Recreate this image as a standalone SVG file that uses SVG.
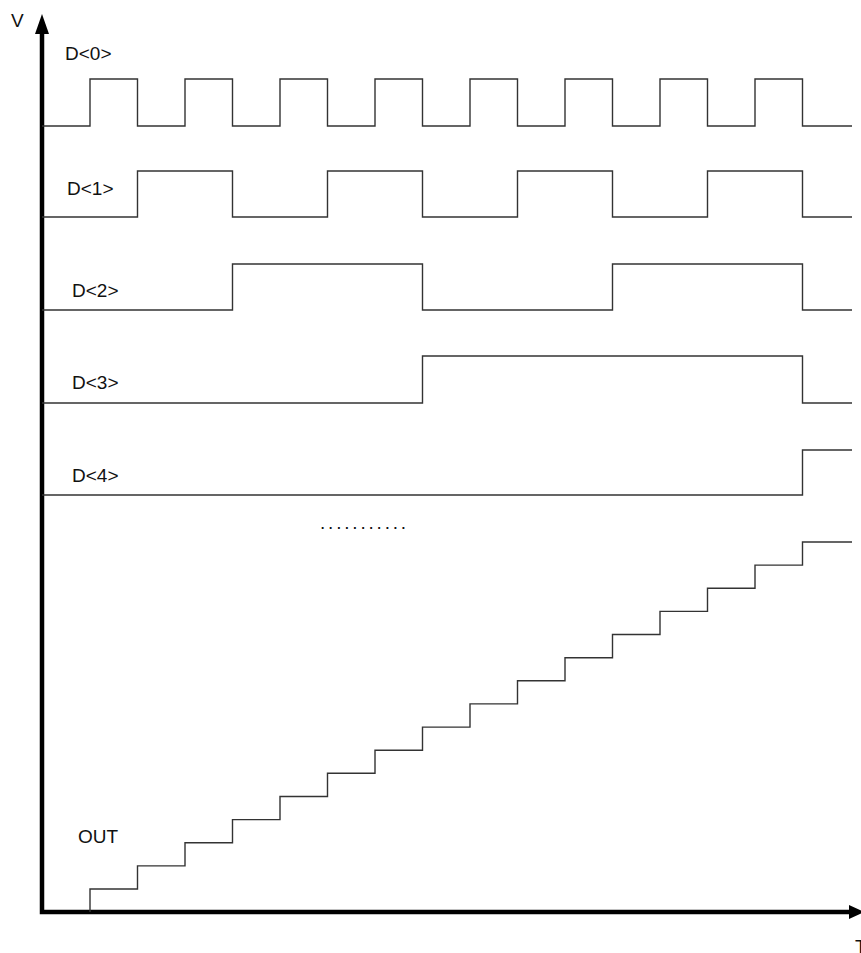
<svg xmlns="http://www.w3.org/2000/svg" width="861" height="953" viewBox="0 0 861 953">
<style>
.sig{fill:none;stroke:#333;stroke-width:1.4}
.axis{fill:none;stroke:#000;stroke-width:4.5}
.lbl{font-family:"Liberation Sans",Arial,sans-serif;font-size:19px;fill:#111}
</style>
<rect width="861" height="953" fill="#fff"/>
<g id="axes">
<path class="axis" d="M42,30 V912 H851"/>
<polygon points="42,14 35,34 49,34" fill="#000"/>
<polygon points="864,912 849,905 849,919" fill="#000"/>
<text class="lbl" x="11" y="27" font-size="17">V</text>
<text class="lbl" x="855" y="953">T</text>
</g>
<g id="d0">
<path class="sig" d="M42,126 H90 V79 H137.5 V126 H185 V79 H232.5 V126 H280 V79 H327.5 V126 H375 V79 H422.5 V126 H470 V79 H517.5 V126 H565 V79 H612.5 V126 H660 V79 H707.5 V126 H755 V79 H802.5 V126 H852"/>
<text class="lbl" x="65" y="60">D&lt;0&gt;</text>
</g>
<g id="d1">
<path class="sig" d="M42,217 H137.5 V171 H232.5 V217 H327.5 V171 H422.5 V217 H517.5 V171 H612.5 V217 H707.5 V171 H802.5 V217 H852"/>
<text class="lbl" x="67" y="195">D&lt;1&gt;</text>
</g>
<g id="d2">
<path class="sig" d="M42,310 H232.5 V264 H422.5 V310 H612.5 V264 H802.5 V310 H852"/>
<text class="lbl" x="72" y="297">D&lt;2&gt;</text>
</g>
<g id="d3">
<path class="sig" d="M42,403 H422.5 V356 H802.5 V403 H852"/>
<text class="lbl" x="72" y="389">D&lt;3&gt;</text>
</g>
<g id="d4">
<path class="sig" d="M42,495 H802.5 V450 H852"/>
<text class="lbl" x="72" y="482">D&lt;4&gt;</text>
</g>
<g id="dots">
<text class="lbl" x="320" y="529" font-size="16" letter-spacing="2.8">...........</text>
</g>
<g id="out">
<path class="sig" d="M90,912 V889 H137.5 V865.9 H185 V842.7 H232.5 V819.6 H280 V796.5 H327.5 V773.3 H375 V750.2 H422.5 V727.1 H470 V703.9 H517.5 V680.8 H565 V657.7 H612.5 V634.5 H660 V611.4 H707.5 V588.3 H755 V565.1 H802.5 V542 H852"/>
<text class="lbl" x="78" y="843">OUT</text>
</g>
</svg>
